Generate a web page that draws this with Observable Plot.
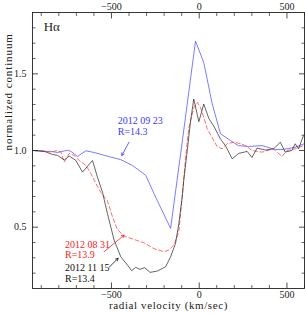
<!DOCTYPE html>
<html>
<head>
<meta charset="utf-8">
<script src="https://cdn.jsdelivr.net/npm/d3@7"></script>
<script src="https://cdn.jsdelivr.net/npm/@observablehq/plot@0.6"></script>
<style>
  html, body { margin: 0; padding: 0; background: #fff; }
  #chart svg { display: block; }
</style>
</head>
<body>
<div id="chart"></div>
<script>
// ---- data (radial velocity km/s, normalized flux) ----
const blueV = [-945, -883, -845, -807, -750, -731, -693, -646, -599, -523, -447, -381, -305, -248, -163, -94, -21, 26, 74, 121, 178, 223, 280, 358, 434, 472, 547, 600];
const blueY = [1.00, 0.995, 0.994, 0.987, 1.002, 0.994, 0.961, 0.998, 0.987, 0.963, 0.940, 0.903, 0.838, 0.695, 0.492, 1.08, 1.714, 1.573, 1.305, 1.11, 1.065, 1.032, 1.026, 1.032, 1.006, 1.006, 1.021, 1.045];

const redV = [-945, -883, -845, -811, -788, -769, -741, -713, -684, -646, -618, -589, -561, -523, -494, -466, -428, -372, -315, -258, -201, -173, -144, -116, -97, -78, -59, -30, -11, 7, 26, 45, 74, 102, 131, 159, 197, 235, 263, 301, 358, 422, 472, 500, 547, 593];
const redY = [1.00, 0.997, 0.989, 1.00, 0.989, 0.924, 0.981, 0.968, 0.935, 0.903, 0.851, 0.786, 0.727, 0.672, 0.567, 0.484, 0.442, 0.42, 0.398, 0.36, 0.34, 0.351, 0.385, 0.47, 0.70, 0.95, 1.15, 1.28, 1.314, 1.281, 1.216, 1.143, 1.084, 1.026, 1.011, 1.044, 1.054, 1.045, 1.032, 1.00, 0.989, 1.011, 0.961, 1.00, 1.011, 1.032];

const blackV = [-945, -883, -835, -807, -769, -741, -703, -665, -608, -580, -551, -523, -485, -447, -409, -385, -362, -338, -311, -280, -239, -191, -163, -135, -116, -97, -88, -68, -49, -31, -2, 26, 55, 83, 121, 149, 188, 225, 273, 301, 330, 377, 424, 462, 490, 528, 547, 566, 594];
const blackY = [1.000, 0.994, 0.974, 0.968, 0.938, 0.964, 0.935, 0.859, 0.935, 0.827, 0.727, 0.589, 0.416, 0.307, 0.253, 0.216, 0.238, 0.225, 0.236, 0.205, 0.214, 0.242, 0.307, 0.394, 0.524, 0.697, 0.805, 1.000, 1.195, 1.336, 1.188, 1.303, 1.208, 1.159, 1.076, 1.032, 0.946, 0.981, 0.994, 0.955, 1.016, 1.003, 1.011, 1.054, 0.990, 1.000, 1.044, 1.011, 1.097];

// ---- ticks ----
const xMajor = [-500, 0, 500];
const xMinor = [-900, -800, -700, -600, -400, -300, -200, -100, 100, 200, 300, 400, 600];
const yMajor = [0.5, 1.0, 1.5];
const yMinor = [0.2, 0.3, 0.4, 0.6, 0.7, 0.8, 0.9, 1.1, 1.2, 1.3, 1.4, 1.6, 1.7, 1.8];

// ---- labels & annotations ----
const xLabel = "radial velocity (km/sec)";
const yLabel = "normalized continuum";
const lineLabel = "Hα";

const noteText = ["2012 09 23", "R=14.3", "2012 08 31", "R=13.9", "2012 11 15", "R=13.4"];
const noteX = [-464, -464, -765, -765, -765, -765];
const noteY = [1.192, 1.123, 0.388, 0.318, 0.234, 0.162];
const noteColor = ["#3a3aff", "#3a3aff", "#ff2020", "#ff2020", "#111", "#111"];

const arrowX1 = [-400, -542, -514];
const arrowY1 = [1.054, 0.340, 0.238];
const arrowX2 = [-441, -428, -462];
const arrowY2 = [0.968, 0.448, 0.297];
const arrowColor = ["#3a3aff", "#ff2020", "#111"];

const toRows = (V, Y) => V.map((v, i) => ({v, y: Y[i]}));
const notes = noteText.map((t, i) => ({t, x: noteX[i], y: noteY[i], c: noteColor[i]}));
const arrows = arrowX1.map((x1, i) => ({x1, y1: arrowY1[i], x2: arrowX2[i], y2: arrowY2[i], c: arrowColor[i]}));

const font = "Liberation Serif, DejaVu Serif, serif";
const fmtY = d3.format(".1f");
const axisFont = {fontFamily: font, fontSize: 10};

const chart = Plot.plot({
  width: 305,
  height: 314,
  marginLeft: 32,
  marginRight: 1,
  marginTop: 12,
  marginBottom: 26,
  style: {fontFamily: font, fontSize: "10px", background: "#fff", color: "#222"},
  x: {domain: [-950, 600]},
  y: {domain: [0.1, 1.9]},
  marks: [
    Plot.line(toRows(blueV, blueY), {x: "v", y: "y", stroke: "#5a5aff", strokeWidth: 0.8, clip: true}),
    Plot.line(toRows(redV, redY), {x: "v", y: "y", stroke: "#ff4a4a", strokeWidth: 0.8, strokeDasharray: "4,2.5", clip: true}),
    Plot.line(toRows(blackV, blackY), {x: "v", y: "y", stroke: "#222", strokeWidth: 0.7, clip: true}),
    Plot.frame({stroke: "#222", strokeWidth: 0.9}),
    Plot.axisX(xMajor, {anchor: "bottom", tickSize: -5.5, tickPadding: 8, label: null, strokeWidth: 0.8, ...axisFont}),
    Plot.axisX(xMinor, {anchor: "bottom", tickSize: -3, tickFormat: () => "", label: null, strokeWidth: 0.7}),
    Plot.axisX(xMajor, {anchor: "top", tickSize: -5.5, tickPadding: 8.5, label: null, strokeWidth: 0.8, ...axisFont}),
    Plot.axisX(xMinor, {anchor: "top", tickSize: -3, tickFormat: () => "", label: null, strokeWidth: 0.7}),
    Plot.axisY(yMajor, {anchor: "left", tickSize: -6, tickPadding: 12, tickFormat: fmtY, label: null, strokeWidth: 0.8, ...axisFont}),
    Plot.axisY(yMinor, {anchor: "left", tickSize: -3.5, tickFormat: () => "", label: null, strokeWidth: 0.7}),
    Plot.axisY(yMajor, {anchor: "right", tickSize: -6, tickFormat: () => "", label: null, strokeWidth: 0.8}),
    Plot.axisY(yMinor, {anchor: "right", tickSize: -3.5, tickFormat: () => "", label: null, strokeWidth: 0.7}),
    Plot.text([xLabel], {frameAnchor: "bottom", dy: 20.5, text: d => d, fontSize: 11, fontFamily: font, fill: "#222"}),
    Plot.text([yLabel], {frameAnchor: "left", dx: -24, rotate: -90, text: d => d, fontSize: 11, fontFamily: font, fill: "#222"}),
    Plot.text([lineLabel], {x: () => -886, y: () => 1.805, text: d => d, textAnchor: "start", fontSize: 13, fontFamily: font, fill: "#222"}),
    Plot.text(notes, {x: "x", y: "y", text: "t", fill: "c", textAnchor: "start", fontSize: 10, fontFamily: font}),
    Plot.arrow(arrows, {x1: "x1", y1: "y1", x2: "x2", y2: "y2", stroke: "c", strokeWidth: 0.8, headLength: 5})
  ]
});
// widen the axis titles a little, like the reference typeface
d3.select(chart).selectAll("text")
  .filter(function () { return this.textContent === xLabel; })
  .style("letter-spacing", "0.6px");
d3.select(chart).selectAll("text")
  .filter(function () { return this.textContent === yLabel; })
  .style("letter-spacing", "0.9px");
document.getElementById("chart").appendChild(chart);
</script>
</body>
</html>
